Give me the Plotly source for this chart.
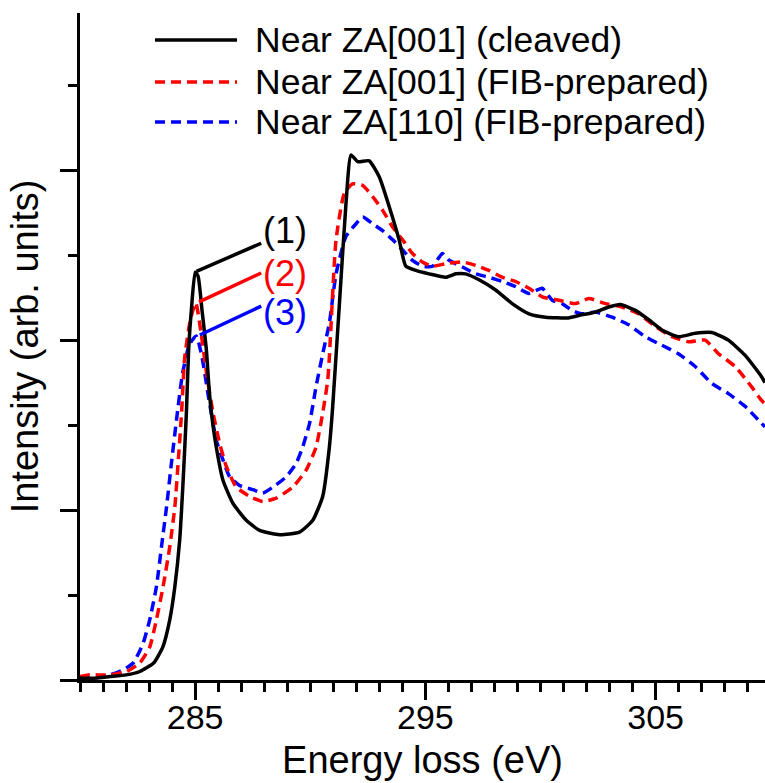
import plotly.graph_objects as go

# ---------------- data ----------------
energy_cleaved = [280.0, 280.6, 281.3, 282.0, 282.6, 283.2, 283.6, 283.9, 284.12, 284.33, 284.48,
                  284.62, 284.72, 284.85, 285.0, 285.13, 285.3, 285.49, 285.6, 285.71, 285.92, 286.21,
                  286.64, 287.22, 287.8, 288.67, 289.53, 290.11, 290.54, 290.83, 290.97, 291.26,
                  291.55, 291.77, 292.06, 292.56, 293.0, 293.43, 293.86, 294.15, 294.59, 295.16,
                  295.89, 296.32, 296.75, 297.33, 298.05, 298.77, 299.5, 300.22, 301.16, 301.66,
                  302.39, 302.96, 303.47, 304.12, 304.7, 305.27, 305.99, 306.72, 307.44, 308.16,
                  308.89, 309.6, 309.75]
intensity_cleaved = [0.02, 0.02, 0.04, 0.06, 0.10, 0.20, 0.39, 0.71, 1.10, 1.65, 2.35,
                     3.14, 3.9, 4.4, 4.80, 4.75, 4.35, 3.88, 3.45, 3.14, 2.74, 2.35,
                     2.08, 1.88, 1.76, 1.71, 1.74, 1.88, 2.16, 2.74, 3.2, 4.4,
                     5.6, 6.18, 6.10, 6.11, 5.92, 5.57, 5.18, 4.87, 4.82, 4.78,
                     4.74, 4.78, 4.78, 4.71, 4.59, 4.43, 4.31, 4.27, 4.26, 4.29,
                     4.33, 4.39, 4.42, 4.35, 4.24, 4.12, 4.04, 4.08, 4.09, 4.0,
                     3.82, 3.57, 3.5]

energy_fib001 = [280.0, 280.36, 281.3, 282.02, 282.6, 283.03, 283.32, 283.61, 283.9, 284.12, 284.26,
                 284.41, 284.55, 284.8, 285.03, 285.25, 285.5, 285.78, 286.07, 286.36, 286.79,
                 287.37, 287.94, 288.52, 289.24, 289.82, 290.25, 290.54, 290.76, 290.83, 291.12,
                 291.48, 291.84, 292.28, 292.71, 293.14, 293.58, 294.01, 294.44, 294.87, 295.31,
                 295.89, 296.61, 297.19, 297.76, 298.34, 298.92, 299.5, 300.07, 300.8, 301.52,
                 302.1, 302.82, 303.54, 304.26, 304.99, 305.71, 306.43, 307.15, 307.73, 308.45,
                 309.17, 309.6, 309.75]
intensity_fib001 = [0.04, 0.06, 0.06, 0.10, 0.20, 0.39, 0.71, 1.10, 1.57, 2.04, 2.55,
                    3.14, 3.8, 4.25, 4.44, 4.1, 3.6, 3.14, 2.78, 2.51, 2.27,
                    2.16, 2.10, 2.14, 2.27, 2.47, 2.74, 3.14, 3.53, 3.80, 5.18,
                    5.73, 5.84, 5.82, 5.69, 5.53, 5.33, 5.18, 5.02, 4.92, 4.87,
                    4.90, 4.92, 4.88, 4.82, 4.74, 4.69, 4.61, 4.51, 4.47, 4.43,
                    4.49, 4.43, 4.39, 4.31, 4.16, 4.04, 3.98, 4.0, 3.84, 3.69,
                    3.45, 3.29, 3.25]

energy_fib110 = [280.0, 280.58, 281.3, 281.88, 282.31, 282.74, 283.03, 283.32, 283.54, 283.76, 283.97,
                 284.19, 284.45, 284.75, 285.05, 285.3, 285.6, 285.92, 286.21, 286.5, 286.93,
                 287.51, 287.94, 288.38, 288.95, 289.39, 289.67, 289.97, 290.25, 290.55, 290.83,
                 291.12, 291.55, 291.99, 292.28, 292.71, 293.14, 293.58, 294.01, 294.44, 294.87,
                 295.31, 295.74, 296.03, 296.61, 297.19, 297.76, 298.34, 298.92, 299.5, 300.07,
                 300.51, 300.94, 301.37, 301.81, 302.39, 303.11, 303.83, 304.55, 305.27, 305.99,
                 306.72, 307.44, 308.16, 308.89, 309.6, 309.75]
intensity_fib110 = [0.03, 0.02, 0.06, 0.12, 0.20, 0.43, 0.71, 1.10, 1.57, 2.04, 2.55,
                    3.06, 3.6, 3.95, 4.05, 3.8, 3.3, 2.82, 2.59, 2.39, 2.29,
                    2.24, 2.20, 2.27, 2.39, 2.55, 2.74, 3.02, 3.45, 3.85, 4.20,
                    4.78, 5.22, 5.37, 5.45, 5.37, 5.29, 5.18, 5.06, 4.94, 4.87,
                    4.87, 5.02, 4.94, 4.86, 4.78, 4.74, 4.69, 4.63, 4.55, 4.61,
                    4.47, 4.43, 4.35, 4.31, 4.33, 4.27, 4.18, 4.04, 3.94, 3.84,
                    3.69, 3.49, 3.37, 3.22, 3.02, 2.98]

series_names = ["Near ZA[001] (cleaved)", "Near ZA[001] (FIB-prepared)", "Near ZA[110] (FIB-prepared)"]
series_colors = ["#000000", "#ff0000", "#0000ff"]
series_dash = ["solid", "10px,6px", "10px,6px"]

# peak labels: label text, label position, pointer from peak to label
peak_labels = ["(1)", "(2)", "(3)"]
label_x = [288.9, 288.9, 288.9]
label_y = [5.29, 4.79, 4.32]
pointer_start_x = [285.06, 285.17, 285.2]
pointer_start_y = [4.81, 4.45, 4.06]
pointer_end_x = [287.87, 287.87, 287.87]
pointer_end_y = [5.14, 4.79, 4.40]

x_range = [280, 309.75]
y_range = [0, 7.85]

FONT = "Liberation Sans, Arial, sans-serif"

fig = go.Figure()

energies = [energy_cleaved, energy_fib001, energy_fib110]
intens = [intensity_cleaved, intensity_fib001, intensity_fib110]
for i in [2, 1, 0]:
    fig.add_trace(go.Scatter(x=energies[i], y=intens[i], mode="lines", name=series_names[i],
                             line=dict(color=series_colors[i], width=3.5, dash=series_dash[i],
                                       shape="spline", smoothing=0.5),
                             showlegend=False))

# pointer lines for peak labels
for i in range(3):
    fig.add_trace(go.Scatter(x=[pointer_start_x[i], pointer_end_x[i]],
                             y=[pointer_start_y[i], pointer_end_y[i]],
                             mode="lines", line=dict(color=series_colors[i], width=3.5),
                             showlegend=False, hoverinfo="skip"))

annotations = []
for i in range(3):
    annotations.append(dict(x=label_x[i], y=label_y[i], xref="x", yref="y", text=peak_labels[i],
                            showarrow=False, font=dict(family=FONT, size=36, color=series_colors[i]),
                            xanchor="center", yanchor="middle"))

# manual legend (long line samples as in the reference)
legend_rows_y = [0.9595, 0.8966, 0.8366]
legend_line_x = [0.1095, 0.2292]
legend_text_x = 0.2526
shapes = []
for i in range(3):
    shapes.append(dict(type="line", xref="paper", yref="paper",
                       x0=legend_line_x[0], x1=legend_line_x[1],
                       y0=legend_rows_y[i], y1=legend_rows_y[i],
                       line=dict(color=series_colors[i], width=3.5,
                                 dash=series_dash[i])))
    annotations.append(dict(x=legend_text_x, y=legend_rows_y[i], xref="paper", yref="paper",
                            text=series_names[i], showarrow=False,
                            font=dict(family=FONT, size=35.5, color="black"),
                            xanchor="left", yanchor="middle"))

fig.update_layout(
    width=765, height=783,
    margin=dict(l=80, r=0, t=13, b=103),
    paper_bgcolor="white", plot_bgcolor="white",
    font=dict(family=FONT, color="black"),
    annotations=annotations, shapes=shapes,
    showlegend=False,
)

fig.update_xaxes(range=x_range, showgrid=False, zeroline=False,
                 showline=True, linecolor="black", linewidth=3,
                 ticks="outside", ticklen=17, tickwidth=3, tickcolor="black",
                 tick0=285, dtick=10, tickfont=dict(family=FONT, size=34),
                 ticklabelstandoff=-12,
                 minor=dict(ticks="outside", ticklen=9, tickwidth=3, tickcolor="black", dtick=1, tick0=280),
                 title=dict(text="Energy loss (eV)", font=dict(family=FONT, size=38), standoff=12),
                 automargin=False)
fig.update_yaxes(range=y_range, showgrid=False, zeroline=False,
                 showline=True, linecolor="black", linewidth=3,
                 ticks="outside", ticklen=17, tickwidth=3, tickcolor="black",
                 tick0=0, dtick=2, showticklabels=False,
                 minor=dict(ticks="outside", ticklen=9, tickwidth=3, tickcolor="black", dtick=1, tick0=0),
                 title=dict(text="Intensity (arb. units)", font=dict(family=FONT, size=38), standoff=10),
                 automargin=False)

fig.write_html("out.html")
